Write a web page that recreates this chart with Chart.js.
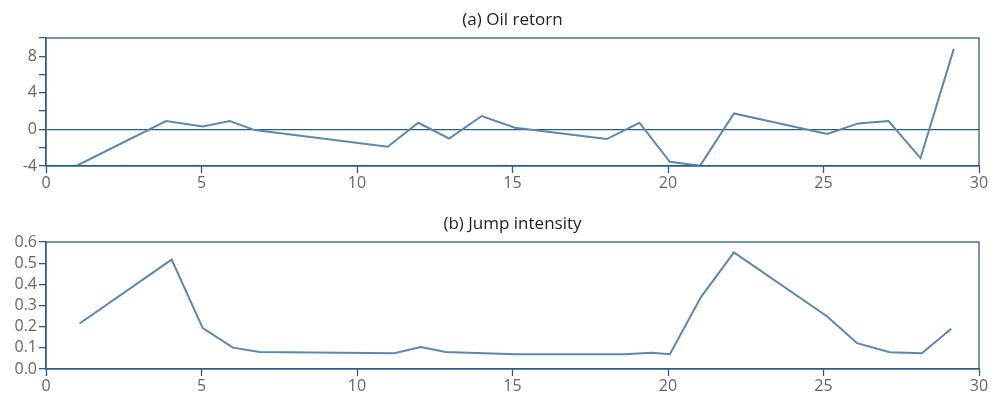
<!DOCTYPE html>
<html>
<head>
<meta charset="utf-8">
<script src="https://cdn.jsdelivr.net/npm/chart.js@4.4.1/dist/chart.umd.min.js"></script>
<style>
  body { margin:0; background:#fff; }
  #wrap { position:relative; width:994px; height:398px; }
  .box { position:absolute; left:0; width:994px; }
  .ttl { position:absolute; left:46px; width:933px; text-align:center; font-family:'Open Sans', sans-serif; font-size:17px; line-height:20px; color:#222; }
</style>
</head>
<body>
<div id="wrap">
  <div class="box" style="top:0;height:200px;"><canvas id="oil" width="994" height="200"></canvas></div>
  <div class="box" style="top:200px;height:198px;"><canvas id="jump" width="994" height="198"></canvas></div>
  <div class="ttl" style="top:9px;">(a) Oil retorn</div>
  <div class="ttl" style="top:213px;">(b) Jump intensity</div>
</div>
<script>
// (a) oil return
var oilX = [0.97, 3.86, 5.04, 5.91, 6.71, 10.99, 11.97, 12.96, 14.01, 15.08, 18.03, 19.08, 20.06, 21.03, 22.12, 25.12, 26.12, 27.09, 28.12, 29.19];
var oilY = [-4.0, 0.92, 0.33, 0.92, -0.07, -1.9, 0.73, -0.99, 1.47, 0.19, -1.05, 0.73, -3.54, -3.98, 1.75, -0.5, 0.66, 0.92, -3.13, 8.81];

// (b) jump intensity
var jumpX = [1.08, 4.04, 5.04, 6.01, 6.87, 11.2, 12.05, 12.85, 15.08, 18.6, 19.47, 20.06, 21.06, 22.12, 25.12, 26.08, 27.13, 28.16, 29.11];
var jumpY = [0.215, 0.517, 0.193, 0.101, 0.08, 0.074, 0.104, 0.08, 0.07, 0.07, 0.077, 0.07, 0.34, 0.551, 0.248, 0.122, 0.079, 0.074, 0.19];

var axisColor = "#2d5b86";
var lineColor = "#5d87ae";
var labelColor = "#666666";
var font = "'Open Sans', 'DejaVu Sans', sans-serif";

function pts(xs, ys) {
  return xs.map(function(x, i){ return {x: x, y: ys[i]}; });
}

// plain frame round the plot area
var frame = {
  id: 'frame',
  afterDatasetsDraw: function(chart) {
    var a = chart.chartArea, ctx = chart.ctx;
    ctx.save();
    ctx.strokeStyle = axisColor;
    ctx.lineWidth = 1.3;
    ctx.strokeRect(a.left, a.top, a.right - a.left, a.bottom - a.top);
    ctx.restore();
  }
};

function makeChart(id, data, padTop, ymin, ymax, ystep, yfmt, xHeight) {
  return new Chart(document.getElementById(id), {
    type: 'scatter',
    data: {
      datasets: [{
        data: data,
        showLine: true,
        borderColor: lineColor,
        borderWidth: 2,
        pointRadius: 0,
        fill: false
      }]
    },
    options: {
      responsive: false,
      animation: false,
      layout: { padding: { left: 0, right: 15, top: padTop, bottom: 0 } },
      plugins: {
        legend: { display: false },
        tooltip: { enabled: false },
        title: { display: false }
      },
      scales: {
        x: {
          type: 'linear',
          min: 0, max: 30,
          grid: { display: true, drawOnChartArea: false, tickLength: 7, tickColor: axisColor, tickWidth: 1.3 },
          border: { color: axisColor, width: 1.3 },
          ticks: { stepSize: 5, autoSkip: false, color: labelColor, padding: 1, font: { family: font, size: 16 }, maxRotation: 0 },
          afterFit: function(s) { s.height = xHeight; s.paddingLeft = 0; s.paddingRight = 0; }
        },
        y: {
          type: 'linear',
          min: ymin, max: ymax,
          grid: {
            color: function(c) { return c.tick && c.tick.value === 0 && ymin < 0 ? axisColor : 'rgba(0,0,0,0)'; },
            lineWidth: 1.3,
            tickLength: 7, tickColor: axisColor, tickWidth: 1.3
          },
          border: { color: axisColor, width: 1.3 },
          ticks: { stepSize: ystep, autoSkip: false, color: labelColor, padding: 2, font: { family: font, size: 16 }, callback: yfmt },
          afterFit: function(s) { s.width = 46; s.paddingTop = 0; s.paddingBottom = 0; }
        }
      }
    },
    plugins: [frame]
  });
}

makeChart('oil', pts(oilX, oilY), 38, -4, 10, 2,
  function(v) { return v % 4 === 0 ? String(v) : ''; }, 34);

makeChart('jump', pts(jumpX, jumpY), 42, 0, 0.6, 0.1,
  function(v) { return Number(v).toFixed(1); }, 29);
</script>
</body>
</html>
